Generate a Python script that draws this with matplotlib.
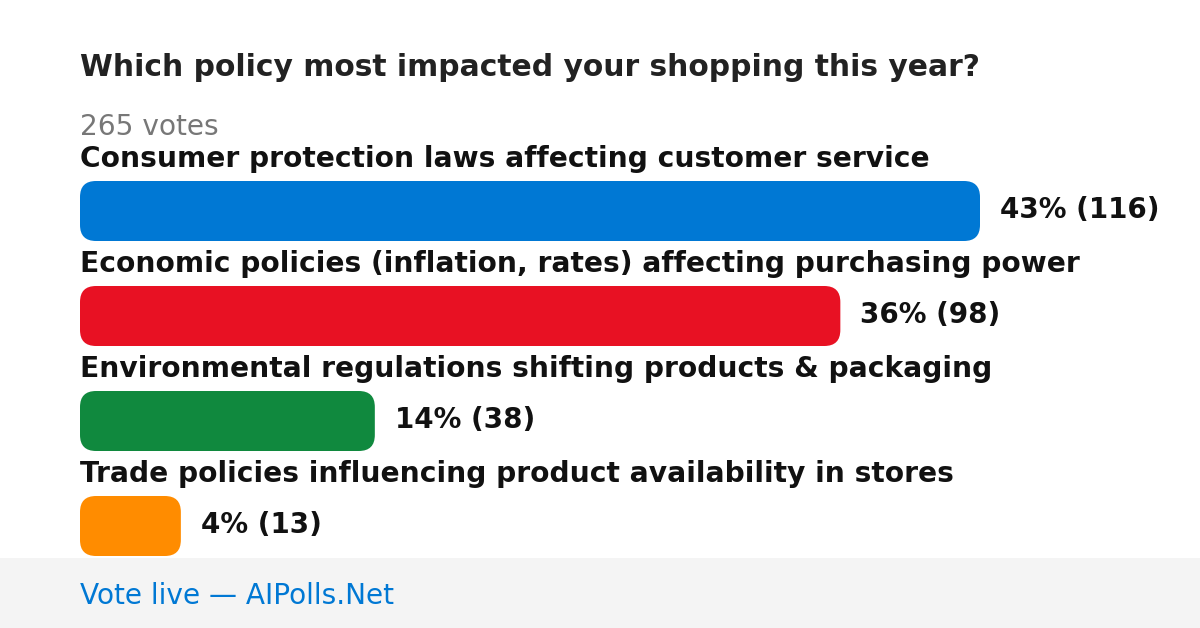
import matplotlib
matplotlib.use('Agg')
import matplotlib.pyplot as plt
from matplotlib.patches import FancyBboxPatch, Rectangle

plt.rcParams['font.family'] = ['DejaVu Sans']

title = 'Which policy most impacted your shopping this year?'
total_votes = 265
options = [
    'Consumer protection laws affecting customer service',
    'Economic policies (inflation, rates) affecting purchasing power',
    'Environmental regulations shifting products & packaging',
    'Trade policies influencing product availability in stores',
]
votes = [116, 98, 38, 13]
percents = [43, 36, 14, 4]
colors = ['#0078D4', '#E81123', '#10893E', '#FF8C00']
footer = 'Vote live — AIPolls.Net'

W, H = 1200, 628
fig = plt.figure(figsize=(W / 100, H / 100), dpi=100)
ax = fig.add_axes([0, 0, 1, 1])
ax.set_xlim(0, W)
ax.set_ylim(H, 0)
ax.axis('off')

px = 72 / 100  # pixel -> point

ax.text(80, 68, title, fontsize=29.7 * px, fontweight='bold', color='#222222',
        va='center', ha='left')
ax.text(80, 127, f'{total_votes} votes', fontsize=28 * px, color='#777777',
        va='center', ha='left')

left = 80
max_w = 900
bar_h = 60
step = 105
for i, (opt, v, p, c) in enumerate(zip(options, votes, percents, colors)):
    top = 181 + i * step
    ax.text(left, top - 22, opt, fontsize=28.1 * px, fontweight='bold',
            color='#111111', va='center', ha='left')
    w = v / max(votes) * max_w
    bar = FancyBboxPatch((left, top), w, bar_h,
                         boxstyle='round,pad=0,rounding_size=16',
                         facecolor=c, edgecolor='none')
    ax.add_patch(bar)
    ax.text(left + w + 20, top + bar_h / 2 - 1, f'{p}% ({v})',
            fontsize=27.7 * px, fontweight='bold', color='#111111',
            va='center', ha='left')

ax.add_patch(Rectangle((0, 558), W, H - 558, facecolor='#f4f4f4',
                       edgecolor='none'))
ax.text(80, 596, footer, fontsize=28 * px, color='#0078D4', va='center',
        ha='left')

plt.savefig('out.png', dpi=100)
plt.close()
